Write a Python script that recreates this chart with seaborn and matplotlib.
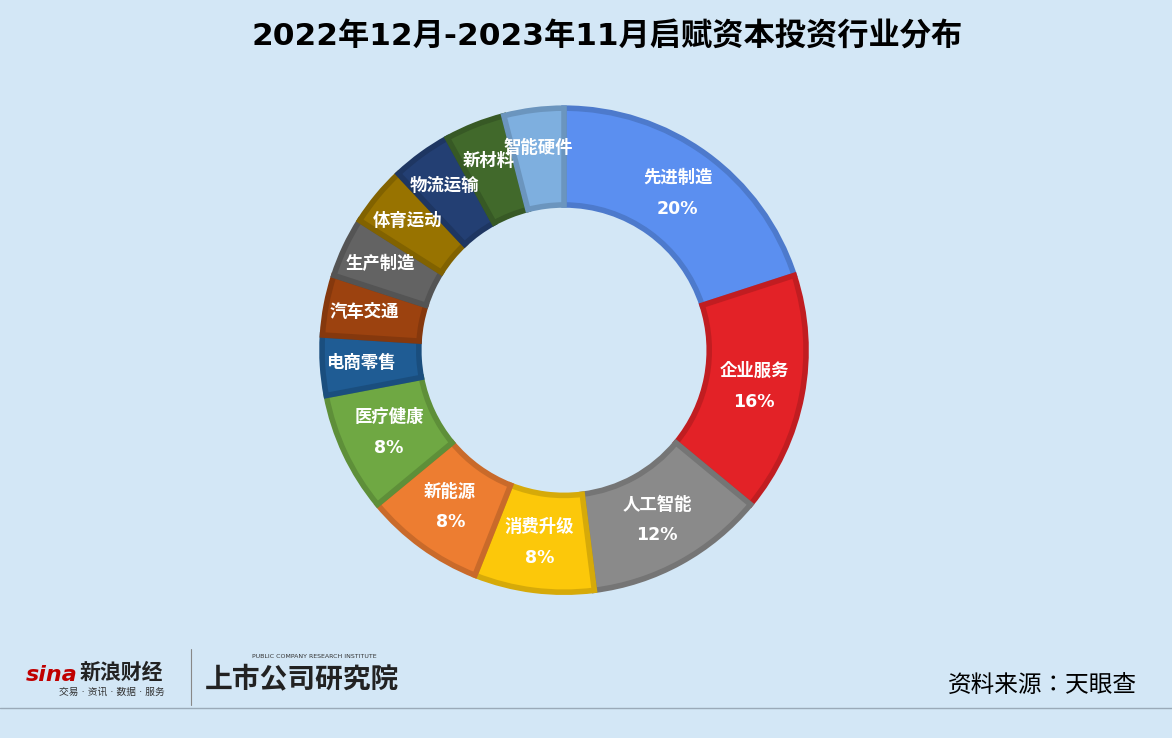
import matplotlib
matplotlib.use("Agg")
import matplotlib.pyplot as plt
import seaborn as sns
import numpy as np
import matplotlib.colors as mc

categories = ["先进制造","企业服务","人工智能","消费升级","新能源","医疗健康","电商零售",
              "汽车交通","生产制造","体育运动","物流运输","新材料","智能硬件"]
values = [20,16,12,8,8,8,4,4,4,4,4,4,4]
colors = ["#5b8ff0","#e32227","#8a8a8a","#fcc80a","#ed7d31","#6fa843","#1f5c94",
          "#9c420f","#636363","#987300","#233f73","#41692b","#7eafdf"]

sns.set_theme(style="white")
plt.rcParams["font.family"] = ["DejaVu Sans","Noto Sans CJK SC","Noto Sans CJK JP","Noto Sans CJK TC"]
bg = "#d3e7f6"
fig = plt.figure(figsize=(11.72,7.38), dpi=100, facecolor=bg)
ax = fig.add_axes([0.2705,0.191,0.4215,0.669])
ax.set_facecolor(bg)
edges = [tuple(np.array(mc.to_rgb(c))*0.85) for c in colors]
wedges,_ = ax.pie(values, colors=colors, startangle=90, counterclock=False,
                  radius=1.0, wedgeprops=dict(width=0.4, linewidth=4))
for w,e in zip(wedges,edges):
    w.set_edgecolor(e)
total = sum(values)
ang = 90.0
for cat,v in zip(categories,values):
    a = np.deg2rad(ang - v/total*360/2)
    ang -= v/total*360
    r = 0.8 if v>=8 else 0.84
    x,y = r*np.cos(a), r*np.sin(a)
    txt = f"{cat}\n{v}%" if v>=8 else cat
    ax.text(x,y,txt,ha="center",va="center",color="white",fontsize=12.5,
            fontweight="bold",linespacing=1.9)
ax.set_xlim(-1.02,1.02); ax.set_ylim(-1.02,1.02); ax.set_aspect("equal"); ax.axis("off")

fig.text(0.518,0.952,"2022年12月-2023年11月启赋资本投资行业分布",ha="center",va="center",
         fontsize=22.5,fontweight="bold",color="black")
fig.text(0.97,0.072,"资料来源：天眼查",ha="right",va="center",fontsize=17,color="black")
fig.text(0.022,0.085,"sina",fontsize=16,fontweight="bold",style="italic",color="#c00000",va="center")
fig.text(0.068,0.088,"新浪财经",fontsize=15,fontweight="bold",color="#222222",va="center")
fig.text(0.05,0.062,"交易 · 资讯 · 数据 · 服务",fontsize=7,color="#333333",va="center")
fig.text(0.175,0.08,"上市公司研究院",fontsize=20,fontweight="bold",style="italic",color="#222222",va="center")
fig.text(0.215,0.11,"PUBLIC COMPANY RESEARCH INSTITUTE",fontsize=4.5,color="#333333",va="center")
fig.add_artist(plt.Line2D([0.163,0.163],[0.045,0.12],color="#888888",lw=0.8))
fig.add_artist(plt.Line2D([0,1],[0.041,0.041],color="#9aaab8",lw=1))
fig.savefig("out.png",dpi=100,facecolor=bg)
